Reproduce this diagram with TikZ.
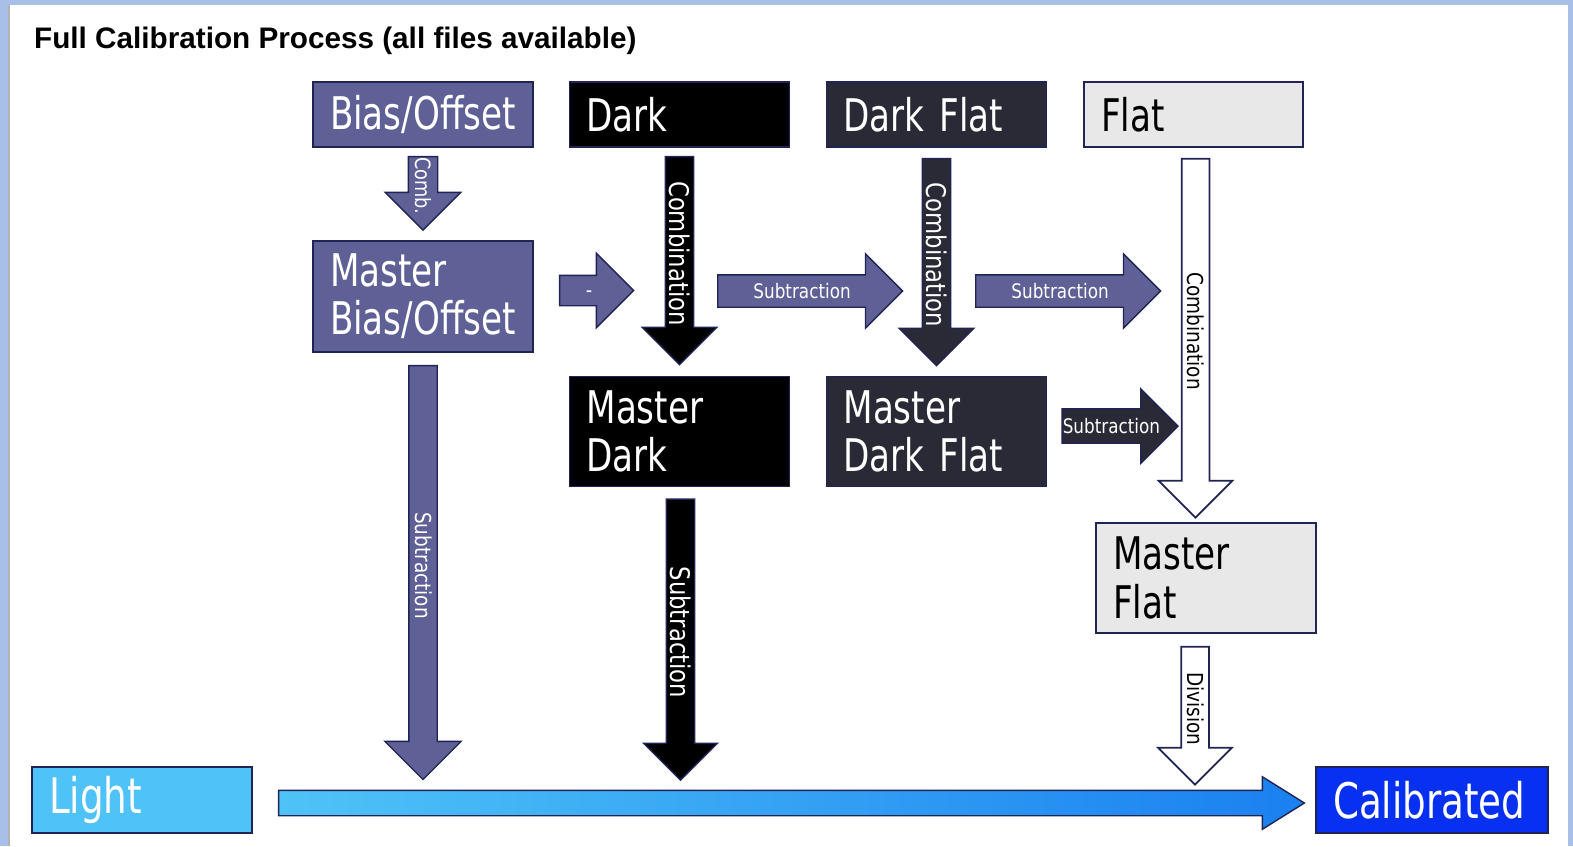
\documentclass[tikz,border=0pt]{standalone}
\usepackage{fontspec}
\setmainfont{DejaVu Sans}
\newfontfamily\boxfont{DejaVu Sans}[FakeStretch=0.76]
\newfontfamily\arrowfont{DejaVu Sans}[FakeStretch=0.84]
\newfontfamily\titlefont{Liberation Sans}
\usetikzlibrary{shapes.arrows,calc}

\definecolor{frameblue}{RGB}{168,192,232}
\definecolor{slate}{RGB}{94,96,150}
\definecolor{navy}{RGB}{32,36,84}
\definecolor{dfgray}{RGB}{42,42,54}
\definecolor{flatgray}{RGB}{232,232,232}
\definecolor{lightblue}{RGB}{79,195,247}
\definecolor{calblue}{RGB}{8,48,240}
\definecolor{streamblue}{RGB}{26,128,240}

\begin{document}
\begin{tikzpicture}[x=0.02cm, y=-0.02cm,
  box/.style={ draw=navy, line width=1pt, text=white, inner xsep=0.34cm,
    inner ysep=0pt, text width=3.72cm, align=left, minimum height=1.3cm,
    font=\boxfont\fontsize{25.6pt}{27.5pt}\selectfont },
  master/.style={ box, minimum height=2.2cm },
  blockarrow/.style={ single arrow, draw=navy, line width=0.8pt,
    inner sep=0pt, single arrow head extend=0.46cm, text=white },
  southarrow/.style={ blockarrow, rotate=-90, anchor=tail },
  eastarrow/.style={ blockarrow, anchor=tail },
  shaft/.style 2 args={ text height=#1, text depth=#2 },
  small/.style={ font=\arrowfont\fontsize{#1}{#1}\selectfont } ]
  % frame
  \useasboundingbox (0,0) rectangle (1573,846);
  \fill[frameblue] (0,0) rectangle (1573,846);
  \fill[white] (10,5) rectangle (1568,846);
  \draw[gray!60, line width=1pt] (9,5) -- (9,846);
  \node[anchor=base west, font=\titlefont\bfseries\fontsize{16.9pt}{20pt}\selectfont]
    (title) at (28,48) {Full Calibration Process (all files available)};
  % raw frames
  \foreach \n/\x/\c/\t in {bias/423/slate/{Bias/Offset},dark/679.5/black/Dark,
    darkflat/936.5/dfgray/{Dark Flat}}
  \node[box, fill=\c] (\n) at (\x,114.5) {\t};
  \node[box, fill=flatgray, text=black, text width=3.7cm] (flat) at (1193.5,114.5) {Flat};
  % masters
  \node[master, fill=slate, minimum height=2.22cm] (mbias) at (423,296.5) {Master\\Bias/Offset};
  \node[master, fill=black] (mdark) at (679.5,431.5) {Master\\Dark};
  \node[master, fill=dfgray] (mdarkflat) at (936.5,431.5) {Master\\Dark Flat};
  \node[master, fill=flatgray, text=black] (mflat) at (1206,578) {Master\\Flat};
  \node[box, fill=lightblue, minimum height=1.32cm,
    font=\boxfont\fontsize{27.9pt}{30pt}\selectfont] (light) at (142,800) {Light};
  \node[box, fill=calblue, minimum height=1.32cm, text width=3.96cm,
    font=\boxfont\fontsize{27.9pt}{30pt}\selectfont] (calib) at (1432,800) {Calibrated};
  % combinations
  \node[southarrow, fill=slate, small=12pt, shaft={0.434cm}{0.126cm},
    minimum height=1.46cm, minimum width=1.48cm] (comb)
    at ($(bias.south)+(0,8)$) {Comb.};
  \node[southarrow, fill=black, small=15.4pt, shaft={0.468cm}{0.072cm},
    minimum height=4.16cm, minimum width=1.46cm] (darkcomb)
    at ($(dark.south)+(0,8)$) {Combination};
  \node[southarrow, fill=dfgray, small=15.4pt, shaft={0.468cm}{0.072cm},
    minimum height=4.14cm, minimum width=1.46cm] (dfcomb)
    at ($(darkflat.south)+(0,10)$) {Combination};
  \node[southarrow, fill=white, text=black, line width=1pt, small=12.5pt,
    shaft={0.42cm}{0.1cm}, minimum height=7.18cm, minimum width=1.44cm] (flatcomb)
    at ($(flat.south)+(2,10)$) {Combination};
  % subtractions
  \node[eastarrow, fill=slate, small=12pt, shaft={0.424cm}{0.156cm},
    minimum height=1.48cm, minimum width=1.46cm, single arrow head extend=0.44cm]
    (minus) at ($(mbias.east)+(25,-6)$) {-};
  \node[eastarrow, fill=slate, small=11.4pt, shaft={0.456cm}{0.164cm},
    minimum height=3.7cm, minimum width=1.46cm, single arrow head extend=0.42cm]
    (sub1) at (717,291) {Subtraction};
  \node[eastarrow, fill=slate, small=11.4pt, shaft={0.456cm}{0.164cm},
    minimum height=3.7cm, minimum width=1.46cm, single arrow head extend=0.42cm]
    (sub2) at (975,291) {Subtraction};
  \node[eastarrow, fill=dfgray, small=11.4pt, shaft={0.476cm}{0.184cm},
    minimum height=2.24cm, minimum width=1.46cm, single arrow head extend=0.4cm]
    (dfsub) at ($(mdarkflat.east)+(14,-5.5)$) {Subtraction};
  \node[southarrow, fill=slate, small=12.5pt, shaft={0.43cm}{0.11cm},
    minimum height=8.28cm, minimum width=1.5cm, single arrow head extend=0.48cm]
    (biassub) at ($(mbias.south)+(0,12)$) {Subtraction};
  \node[southarrow, fill=black, small=15.4pt, shaft={0.468cm}{0.072cm},
    minimum height=5.62cm, minimum width=1.44cm, single arrow head extend=0.45cm]
    (darksub) at ($(mdark.south)+(1,11)$) {Subtraction};
  \node[southarrow, fill=white, text=black, line width=1pt, small=12.5pt,
    shaft={0.42cm}{0.1cm}, minimum height=2.76cm, minimum width=1.44cm] (division)
    at ($(mflat.south)+(-11,12)$) {Division};
  % light frame stream
  \node[eastarrow, left color=lightblue, right color=streamblue,
    shaft={0.24cm}{0.24cm}, minimum height=20.52cm, minimum width=1.02cm,
    single arrow head extend=0.27cm, single arrow tip angle=64]
    (stream) at ($(light.east)+(25,3)$) {};
\end{tikzpicture}
\end{document}
